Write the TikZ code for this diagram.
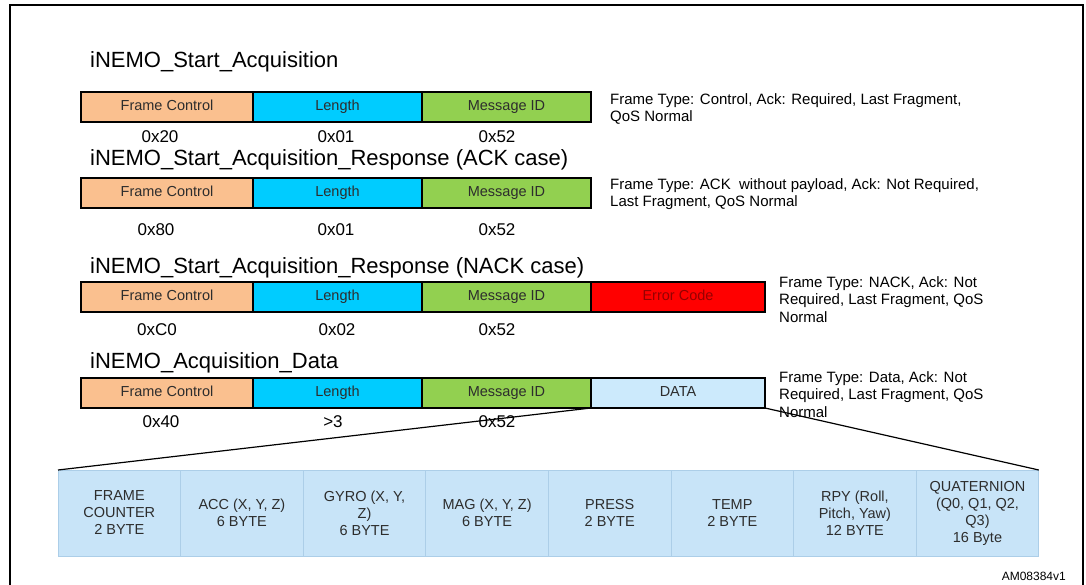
\documentclass[tikz,border=0pt]{standalone}
\usepackage{fontspec}
\setmainfont{Liberation Sans}
\definecolor{fcorange}{RGB}{250,192,143}
\definecolor{lencyan}{RGB}{0,204,255}
\definecolor{idgreen}{RGB}{146,208,80}
\definecolor{errred}{RGB}{255,0,0}
\definecolor{errtext}{RGB}{150,0,0}
\definecolor{datablue}{RGB}{204,234,252}
\definecolor{cellblue}{RGB}{200,228,248}
\definecolor{cellline}{RGB}{172,206,232}
\definecolor{txtgray}{RGB}{45,45,45}
\tikzset{
  field/.style={draw=black, line width=1.3pt, minimum height=30pt, inner sep=0pt, outer sep=0pt,
    text height=10.5pt, text depth=3pt,
    anchor=north west, text=txtgray, font=\fontsize{14.5}{16}\selectfont},
  title/.style={anchor=west, inner sep=0pt, font=\fontsize{22}{24}\selectfont},
  value/.style={inner sep=0pt, font=\fontsize{17}{19}\selectfont},
  note/.style={anchor=north west, align=left, inner sep=0pt, font=\fontsize{15}{17.5}\selectfont},
  cell/.style={draw=cellline, fill=cellblue, line width=0.8pt, minimum width=122.6pt, minimum height=86pt,
    inner sep=0pt, outer sep=0pt, anchor=north west, align=center, text=txtgray,
    font=\fontsize{14.5}{17}\selectfont}
}
\begin{document}
\begin{tikzpicture}[x=1pt, y=-1pt]
    \useasboundingbox (0, 0) rectangle (1086, 585);
    \draw[line width=2.5pt] (10, 5) rectangle (1083, 600);

      % start acquisition
      \node[title] (t1) at (90, 62){iNEMO\_Start\_Acquisition};
      \node[field, fill=fcorange, minimum width=172pt] (fc1) at (81, 92){Frame Control};
      \node[field, fill=lencyan, minimum width=169pt] (len1) at (fc1.north east){Length};
      \node[field, fill=idgreen, minimum width=169pt] (id1) at (len1.north east){Message ID};
      \node[value] (v11) at (160, 137){0x20};
      \node[value] (v12) at (336, 137){0x01};
      \node[value] (v13) at (497, 137){0x52};
      \node[note] (n1) at (610, 93){Frame Type: Control, Ack: Required, Last Fragment,\\QoS Normal};

      % ACK response
      \node[title] (t2) at (90, 160){iNEMO\_Start\_Acquisition\_Response (ACK case)};
      \node[field, fill=fcorange, minimum width=172pt] (fc2) at (81, 178){Frame Control};
      \node[field, fill=lencyan, minimum width=169pt] (len2) at (fc2.north east){Length};
      \node[field, fill=idgreen, minimum width=169pt] (id2) at (len2.north east){Message ID};
      \node[value] (v21) at (156, 230){0x80};
      \node[value] (v22) at (336, 230){0x01};
      \node[value] (v23) at (497, 230){0x52};
      \node[note] (n2) at (610, 178){Frame Type: ACK\ \ without payload, Ack: Not Required,\\Last Fragment, QoS Normal};

      % NACK response
      \node[title] (t3) at (90, 268){iNEMO\_Start\_Acquisition\_Response (NACK case)};
      \node[field, fill=fcorange, minimum width=172pt] (fc3) at (81, 282){Frame Control};
      \node[field, fill=lencyan, minimum width=169pt] (len3) at (fc3.north east){Length};
      \node[field, fill=idgreen, minimum width=169pt] (id3) at (len3.north east){Message ID};
      \node[field, fill=errred, text=errtext, minimum width=174pt] (err3) at (id3.north east){Error Code};
      \node[value] (v31) at (157, 330){0xC0};
      \node[value] (v32) at (337, 330){0x02};
      \node[value] (v33) at (497, 330){0x52};
      \node[note] (n3) at (779, 276){Frame Type: NACK, Ack: Not\\Required, Last Fragment, QoS\\Normal};

      % acquisition data
      \node[title] (t4) at (90, 363){iNEMO\_Acquisition\_Data};
      \node[field, fill=fcorange, minimum width=172pt] (fc4) at (81, 378){Frame Control};
      \node[field, fill=lencyan, minimum width=169pt] (len4) at (fc4.north east){Length};
      \node[field, fill=idgreen, minimum width=169pt] (id4) at (len4.north east){Message ID};
      \node[field, fill=datablue, minimum width=174pt] (dat4) at (id4.north east){DATA};
      \node[value] (v41) at (161, 422){0x40};
      \node[value] (v42) at (333, 422){>3};
      \node[value] (v43) at (497, 422){0x52};
      \node[note] (n4) at (779, 371){Frame Type: Data, Ack: Not\\Required, Last Fragment, QoS\\Normal};

      % payload
      \node[cell] (c1) at (58, 470){FRAME\\COUNTER\\2 BYTE};
      \node[cell] (c2) at (c1.north east){ACC (X, Y, Z)\\6 BYTE};
      \node[cell] (c3) at (c2.north east){GYRO (X, Y,\\Z)\\6 BYTE};
      \node[cell] (c4) at (c3.north east){MAG (X, Y, Z)\\6 BYTE};
      \node[cell] (c5) at (c4.north east){PRESS\\2 BYTE};
      \node[cell] (c6) at (c5.north east){TEMP\\2 BYTE};
      \node[cell] (c7) at (c6.north east){RPY (Roll,\\Pitch, Yaw)\\12 BYTE};
      \node[cell] (c8) at (c7.north east){QUATERNION\\(Q0, Q1, Q2,\\Q3)\\16 Byte};

      \draw[line width=1.2pt] (dat4.south west) to (c1.north west);
      \draw[line width=1.2pt] (dat4.south east) to (c8.north east);

      \node[anchor=east, inner sep=0pt, font=\fontsize{12}{14}\selectfont] (am) at (1066, 576){AM08384v1};

    \end{tikzpicture}
\end{document}
